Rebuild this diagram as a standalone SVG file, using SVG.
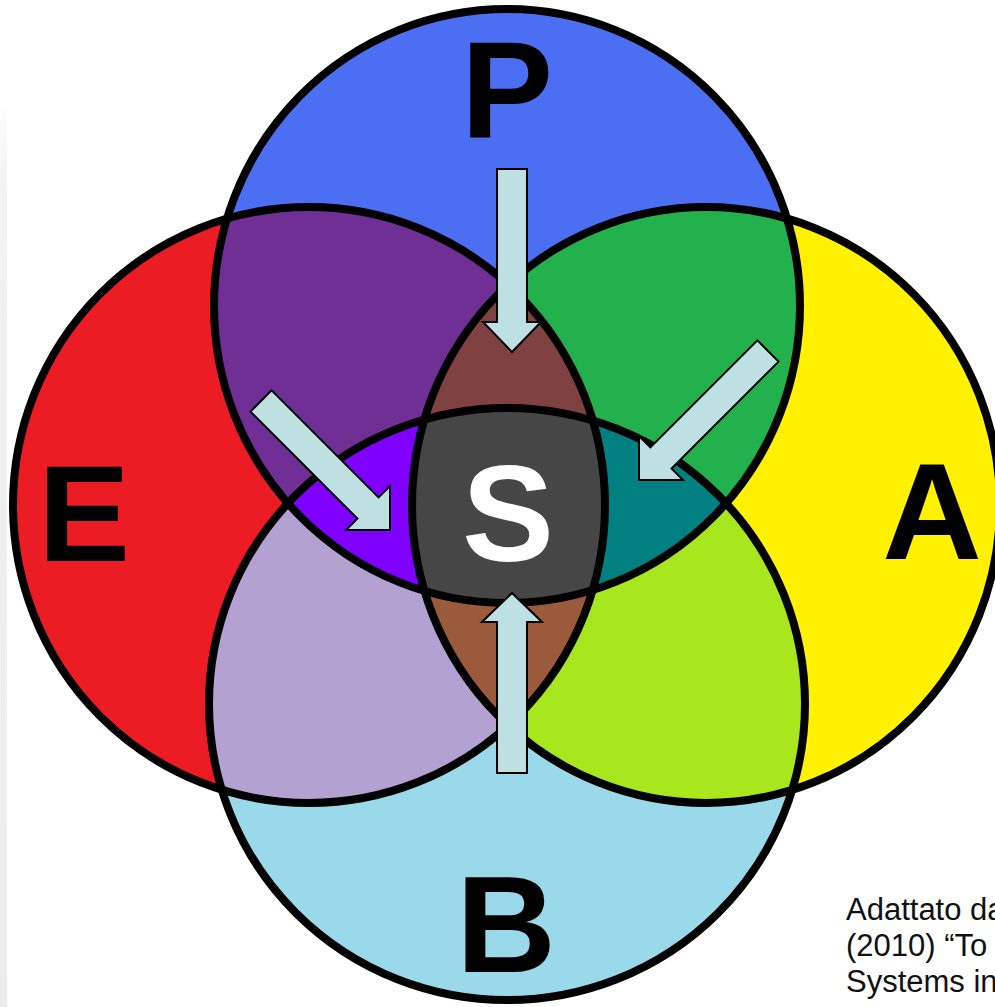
<svg xmlns="http://www.w3.org/2000/svg" width="995" height="1007" viewBox="0 0 995 1007">
<style>
.ol{fill:none;stroke:#000;stroke-width:8}
.arrow{fill:#BEE0E3;stroke:#000;stroke-width:2;stroke-linejoin:miter}
.lbl{font-family:"Liberation Sans",Arial,sans-serif;font-weight:bold;font-size:138px;text-anchor:middle;fill:#000}
.cite{font-family:"Liberation Sans",Arial,sans-serif;font-size:31px;fill:#111}
</style>
<defs>
<linearGradient id="strip" x1="0" y1="0" x2="0" y2="1">
<stop offset="0" stop-color="#ffffff"/>
<stop offset="0.1" stop-color="#f2f2f2"/>
<stop offset="1" stop-color="#ececec"/>
</linearGradient>
<clipPath id="cP"><ellipse cx="507" cy="306" rx="293" ry="297"/></clipPath>
<clipPath id="cE"><ellipse cx="309" cy="505" rx="296" ry="298"/></clipPath>
<clipPath id="cA"><ellipse cx="706" cy="505" rx="294" ry="298"/></clipPath>
<clipPath id="cB"><ellipse cx="507" cy="704" rx="298" ry="296"/></clipPath>
</defs>
<rect width="995" height="1007" fill="#fff"/>
<rect x="0" y="100" width="7" height="907" fill="url(#strip)"/>

<g id="fills">
<ellipse cx="507" cy="306" rx="293" ry="297" fill="#4B6EF2"/>
<ellipse cx="309" cy="505" rx="296" ry="298" fill="#EC1C24"/>
<ellipse cx="706" cy="505" rx="294" ry="298" fill="#FFF100"/>
<ellipse cx="507" cy="704" rx="298" ry="296" fill="#99D9EA"/>
<g clip-path="url(#cP)"><ellipse cx="309" cy="505" rx="296" ry="298" fill="#6F2F94"/></g>
<g clip-path="url(#cP)"><ellipse cx="706" cy="505" rx="294" ry="298" fill="#23B14D"/></g>
<g clip-path="url(#cE)"><ellipse cx="507" cy="704" rx="298" ry="296" fill="#B3A1D2"/></g>
<g clip-path="url(#cA)"><ellipse cx="507" cy="704" rx="298" ry="296" fill="#A8E61E"/></g>
<g clip-path="url(#cP)"><g clip-path="url(#cE)"><ellipse cx="706" cy="505" rx="294" ry="298" fill="#7F4141"/></g></g>
<g clip-path="url(#cB)"><g clip-path="url(#cE)"><ellipse cx="706" cy="505" rx="294" ry="298" fill="#9B5A3C"/></g></g>
<g clip-path="url(#cP)"><g clip-path="url(#cE)"><ellipse cx="507" cy="704" rx="298" ry="296" fill="#8000FF"/></g></g>
<g clip-path="url(#cP)"><g clip-path="url(#cA)"><ellipse cx="507" cy="704" rx="298" ry="296" fill="#008080"/></g></g>
<g id="node-S-fill" clip-path="url(#cP)"><g clip-path="url(#cE)"><g clip-path="url(#cA)"><ellipse cx="507" cy="704" rx="298" ry="296" fill="#464646"/></g></g></g>
</g>

<g id="node-P"><ellipse class="ol" cx="507" cy="306" rx="293" ry="297"/><text class="lbl" x="507" y="137">P</text></g>
<g id="node-E"><ellipse class="ol" cx="309" cy="505" rx="296" ry="298"/><text class="lbl" x="84" y="561">E</text></g>
<g id="node-A"><ellipse class="ol" cx="706" cy="505" rx="294" ry="298"/><text class="lbl" x="932" y="559">A</text></g>
<g id="node-B"><ellipse class="ol" cx="507" cy="704" rx="298" ry="296"/><text class="lbl" x="506" y="972">B</text></g>
<g id="node-S"><text class="lbl" x="508" y="561" style="fill:#fff">S</text></g>

<g id="connectors">
<polygon class="arrow" points="497,169 527,169 527,322 541,322 512,352 483,322 497,322"/>
<polygon class="arrow" points="497,773 527,773 527,622 542,622 512,593 482,622 497,622"/>
<polygon class="arrow" points="250.4,411.6 271.6,390.4 378.6,497.4 390,486 390,530 346,530 357.4,518.6"/>
<polygon class="arrow" points="778.6,361.6 757.4,340.4 650.4,447.4 639,436 639,480 683,480 671.6,468.6"/>
</g>

<g id="citation">
<text class="cite" x="846" y="920">Adattato da</text>
<text class="cite" x="846" y="956">(2010) “To</text>
<text class="cite" x="846" y="992">Systems in</text>
</g>
</svg>
